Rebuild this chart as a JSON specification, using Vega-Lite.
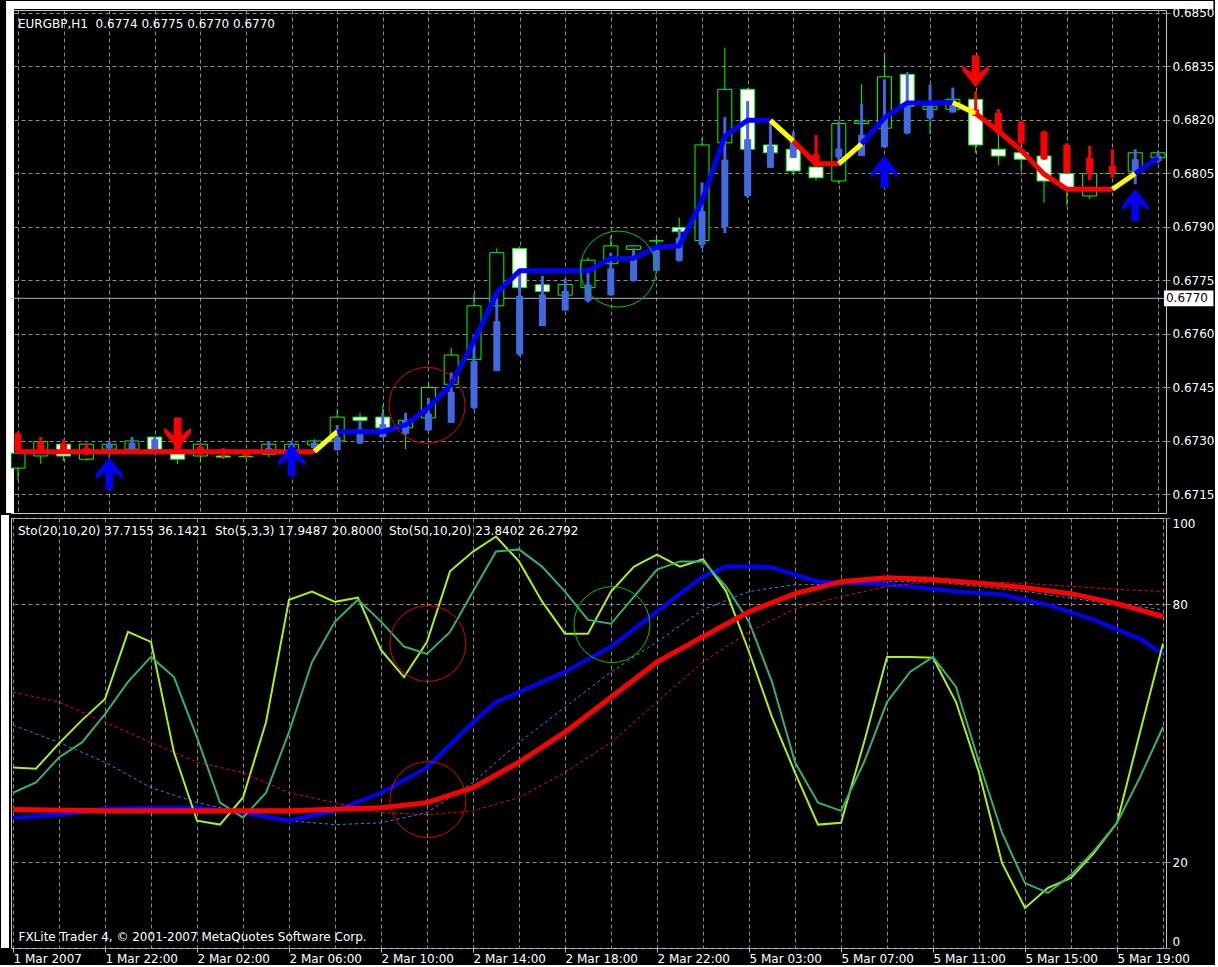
{
  "$schema": "https://vega.github.io/schema/vega-lite/v6.json",
  "background": "black",
  "padding": 0,
  "spacing": 0,
  "resolve": {"scale": {"stroke": "independent", "fill": "independent", "color": "independent", "shape": "independent"}},
  "config": {
    "view": {"stroke": "#c8c8c8", "strokeWidth": 1, "fill": "black"},
    "font": "DejaVu Sans",
    "axis": {"labelFont": "DejaVu Sans", "labelFontSize": 12, "labelColor": "white", "gridColor": "#8c8c8c", "gridDash": [4, 3], "gridOpacity": 1, "gridWidth": 1, "domain": false, "tickColor": "#8c8c8c"}
  },
  "datasets": {
    "bars": [
      {"i":0,"open":0.67224,"high":0.67300,"low":0.67190,"close":0.67266,"hh":0.67325,"hl":0.67266,"hb":0.67270,"ht":0.67320,"trend":"down"},
      {"i":1,"open":0.67258,"high":0.67311,"low":0.67236,"close":0.67298,"hh":0.67311,"hl":0.67272,"hb":0.67272,"ht":0.67298,"trend":"down"},
      {"i":2,"open":0.67291,"high":0.67302,"low":0.67244,"close":0.67258,"hh":0.67305,"hl":0.67265,"hb":0.67270,"ht":0.67291,"trend":"down"},
      {"i":3,"open":0.67249,"high":0.67294,"low":0.67244,"close":0.67291,"hh":0.67294,"hl":0.67260,"hb":0.67265,"ht":0.67280,"trend":"down"},
      {"i":4,"open":0.67277,"high":0.67300,"low":0.67252,"close":0.67291,"hh":0.67300,"hl":0.67275,"hb":0.67280,"ht":0.67290,"trend":"up"},
      {"i":5,"open":0.67277,"high":0.67311,"low":0.67270,"close":0.67300,"hh":0.67311,"hl":0.67277,"hb":0.67277,"ht":0.67295,"trend":"up"},
      {"i":6,"open":0.67311,"high":0.67311,"low":0.67265,"close":0.67277,"hh":0.67311,"hl":0.67277,"hb":0.67277,"ht":0.67305,"trend":"up"},
      {"i":7,"open":0.67264,"high":0.67320,"low":0.67235,"close":0.67249,"hh":0.67300,"hl":0.67265,"hb":0.67270,"ht":0.67290,"trend":"down"},
      {"i":8,"open":0.67258,"high":0.67295,"low":0.67240,"close":0.67291,"hh":0.67291,"hl":0.67258,"hb":0.67263,"ht":0.67283,"trend":"down"},
      {"i":9,"open":0.67258,"high":0.67262,"low":0.67250,"close":0.67255,"hh":0.67280,"hl":0.67255,"hb":0.67262,"ht":0.67272,"trend":"down"},
      {"i":10,"open":0.67257,"high":0.67262,"low":0.67250,"close":0.67256,"hh":0.67272,"hl":0.67256,"hb":0.67258,"ht":0.67270,"trend":"down"},
      {"i":11,"open":0.67263,"high":0.67300,"low":0.67255,"close":0.67291,"hh":0.67300,"hl":0.67268,"hb":0.67268,"ht":0.67280,"trend":"up"},
      {"i":12,"open":0.67270,"high":0.67300,"low":0.67260,"close":0.67291,"hh":0.67295,"hl":0.67272,"hb":0.67275,"ht":0.67288,"trend":"up"},
      {"i":13,"open":0.67289,"high":0.67305,"low":0.67270,"close":0.67300,"hh":0.67300,"hl":0.67275,"hb":0.67280,"ht":0.67295,"trend":"up"},
      {"i":14,"open":0.67300,"high":0.67389,"low":0.67290,"close":0.67367,"hh":0.67345,"hl":0.67274,"hb":0.67274,"ht":0.67311,"trend":"up"},
      {"i":15,"open":0.67367,"high":0.67379,"low":0.67350,"close":0.67358,"hh":0.67358,"hl":0.67292,"hb":0.67293,"ht":0.67334,"trend":"up"},
      {"i":16,"open":0.67367,"high":0.67401,"low":0.67330,"close":0.67337,"hh":0.67379,"hl":0.67309,"hb":0.67311,"ht":0.67347,"trend":"up"},
      {"i":17,"open":0.67337,"high":0.67379,"low":0.67277,"close":0.67358,"hh":0.67379,"hl":0.67318,"hb":0.67320,"ht":0.67358,"trend":"up"},
      {"i":18,"open":0.67365,"high":0.67463,"low":0.67355,"close":0.67450,"hh":0.67421,"hl":0.67328,"hb":0.67330,"ht":0.67377,"trend":"up"},
      {"i":19,"open":0.67459,"high":0.67562,"low":0.67450,"close":0.67541,"hh":0.67492,"hl":0.67351,"hb":0.67351,"ht":0.67438,"trend":"up"},
      {"i":20,"open":0.67529,"high":0.67711,"low":0.67520,"close":0.67679,"hh":0.67599,"hl":0.67389,"hb":0.67393,"ht":0.67524,"trend":"up"},
      {"i":21,"open":0.67679,"high":0.67840,"low":0.67670,"close":0.67828,"hh":0.67702,"hl":0.67496,"hb":0.67496,"ht":0.67636,"trend":"up"},
      {"i":22,"open":0.67840,"high":0.67845,"low":0.67720,"close":0.67730,"hh":0.67777,"hl":0.67538,"hb":0.67543,"ht":0.67707,"trend":"up"},
      {"i":23,"open":0.67738,"high":0.67745,"low":0.67710,"close":0.67719,"hh":0.67763,"hl":0.67622,"hb":0.67622,"ht":0.67711,"trend":"up"},
      {"i":24,"open":0.67709,"high":0.67745,"low":0.67700,"close":0.67739,"hh":0.67754,"hl":0.67665,"hb":0.67666,"ht":0.67721,"trend":"up"},
      {"i":25,"open":0.67730,"high":0.67815,"low":0.67720,"close":0.67807,"hh":0.67777,"hl":0.67688,"hb":0.67693,"ht":0.67739,"trend":"up"},
      {"i":26,"open":0.67797,"high":0.67875,"low":0.67790,"close":0.67847,"hh":0.67828,"hl":0.67707,"hb":0.67709,"ht":0.67784,"trend":"up"},
      {"i":27,"open":0.67837,"high":0.67850,"low":0.67830,"close":0.67847,"hh":0.67840,"hl":0.67747,"hb":0.67749,"ht":0.67812,"trend":"up"},
      {"i":28,"open":0.67861,"high":0.67875,"low":0.67850,"close":0.67861,"hh":0.67847,"hl":0.67777,"hb":0.67777,"ht":0.67835,"trend":"up"},
      {"i":29,"open":0.67898,"high":0.67926,"low":0.67880,"close":0.67887,"hh":0.67894,"hl":0.67803,"hb":0.67805,"ht":0.67870,"trend":"up"},
      {"i":30,"open":0.67862,"high":0.68150,"low":0.67850,"close":0.68130,"hh":0.68025,"hl":0.67840,"hb":0.67850,"ht":0.67945,"trend":"up"},
      {"i":31,"open":0.68136,"high":0.68403,"low":0.68120,"close":0.68286,"hh":0.68208,"hl":0.67883,"hb":0.67900,"ht":0.68089,"trend":"up"},
      {"i":32,"open":0.68286,"high":0.68290,"low":0.68100,"close":0.68118,"hh":0.68253,"hl":0.67982,"hb":0.67987,"ht":0.68146,"trend":"up"},
      {"i":33,"open":0.68130,"high":0.68140,"low":0.68100,"close":0.68108,"hh":0.68197,"hl":0.68066,"hb":0.68066,"ht":0.68127,"trend":"up"},
      {"i":34,"open":0.68118,"high":0.68125,"low":0.68050,"close":0.68057,"hh":0.68167,"hl":0.68094,"hb":0.68094,"ht":0.68141,"trend":"up"},
      {"i":35,"open":0.68068,"high":0.68075,"low":0.68030,"close":0.68038,"hh":0.68158,"hl":0.68080,"hb":0.68083,"ht":0.68104,"trend":"down"},
      {"i":36,"open":0.68029,"high":0.68200,"low":0.68020,"close":0.68190,"hh":0.68188,"hl":0.68071,"hb":0.68095,"ht":0.68120,"trend":"up"},
      {"i":37,"open":0.68190,"high":0.68300,"low":0.68180,"close":0.68197,"hh":0.68245,"hl":0.68099,"hb":0.68099,"ht":0.68158,"trend":"up"},
      {"i":38,"open":0.68177,"high":0.68384,"low":0.68170,"close":0.68321,"hh":0.68314,"hl":0.68122,"hb":0.68124,"ht":0.68206,"trend":"up"},
      {"i":39,"open":0.68328,"high":0.68335,"low":0.68230,"close":0.68239,"hh":0.68333,"hl":0.68160,"hb":0.68162,"ht":0.68249,"trend":"up"},
      {"i":40,"open":0.68230,"high":0.68245,"low":0.68160,"close":0.68239,"hh":0.68300,"hl":0.68202,"hb":0.68205,"ht":0.68239,"trend":"up"},
      {"i":41,"open":0.68230,"high":0.68265,"low":0.68225,"close":0.68258,"hh":0.68291,"hl":0.68221,"hb":0.68221,"ht":0.68249,"trend":"up"},
      {"i":42,"open":0.68258,"high":0.68280,"low":0.68108,"close":0.68130,"hh":0.68277,"hl":0.68211,"hb":0.68211,"ht":0.68230,"trend":"down"},
      {"i":43,"open":0.68118,"high":0.68230,"low":0.68073,"close":0.68099,"hh":0.68230,"hl":0.68160,"hb":0.68164,"ht":0.68220,"trend":"down"},
      {"i":44,"open":0.68108,"high":0.68136,"low":0.68056,"close":0.68090,"hh":0.68197,"hl":0.68132,"hb":0.68136,"ht":0.68195,"trend":"down"},
      {"i":45,"open":0.68099,"high":0.68110,"low":0.67968,"close":0.68029,"hh":0.68170,"hl":0.68088,"hb":0.68090,"ht":0.68167,"trend":"down"},
      {"i":46,"open":0.68050,"high":0.68060,"low":0.67959,"close":0.68010,"hh":0.68135,"hl":0.68050,"hb":0.68052,"ht":0.68130,"trend":"down"},
      {"i":47,"open":0.67987,"high":0.68127,"low":0.67979,"close":0.68050,"hh":0.68127,"hl":0.68031,"hb":0.68048,"ht":0.68094,"trend":"down"},
      {"i":48,"open":0.68050,"high":0.68060,"low":0.68045,"close":0.68050,"hh":0.68118,"hl":0.68038,"hb":0.68050,"ht":0.68071,"trend":"down"},
      {"i":49,"open":0.68055,"high":0.68118,"low":0.68020,"close":0.68108,"hh":0.68118,"hl":0.68020,"hb":0.68050,"ht":0.68090,"trend":"up"},
      {"i":50,"open":0.68094,"high":0.68115,"low":0.68090,"close":0.68108,"hh":0.68110,"hl":0.68080,"hb":0.68085,"ht":0.68100,"trend":"up"}
    ],
    "ma": [
      {"seg":"A","trend":"down","i":0,"v":0.67270},{"seg":"A","trend":"down","i":13,"v":0.67270},
      {"seg":"B","trend":"flat","i":13,"v":0.67270},{"seg":"B","trend":"flat","i":14,"v":0.67326},
      {"seg":"C","trend":"up","i":14,"v":0.67326},{"seg":"C","trend":"up","i":15,"v":0.67326},{"seg":"C","trend":"up","i":16,"v":0.67326},{"seg":"C","trend":"up","i":17,"v":0.67345},{"seg":"C","trend":"up","i":18,"v":0.67393},{"seg":"C","trend":"up","i":19,"v":0.67459},{"seg":"C","trend":"up","i":20,"v":0.67580},{"seg":"C","trend":"up","i":21,"v":0.67716},{"seg":"C","trend":"up","i":22,"v":0.67777},{"seg":"C","trend":"up","i":23,"v":0.67777},{"seg":"C","trend":"up","i":24,"v":0.67777},{"seg":"C","trend":"up","i":25,"v":0.67777},{"seg":"C","trend":"up","i":26,"v":0.67812},{"seg":"C","trend":"up","i":27,"v":0.67812},{"seg":"C","trend":"up","i":28,"v":0.67844},{"seg":"C","trend":"up","i":29,"v":0.67847},{"seg":"C","trend":"up","i":30,"v":0.67973},{"seg":"C","trend":"up","i":31,"v":0.68155},{"seg":"C","trend":"up","i":32,"v":0.68199},{"seg":"C","trend":"up","i":33,"v":0.68199},
      {"seg":"D","trend":"flat","i":33,"v":0.68199},{"seg":"D","trend":"flat","i":34,"v":0.68141},
      {"seg":"E","trend":"down","i":34,"v":0.68141},{"seg":"E","trend":"down","i":35,"v":0.68077},{"seg":"E","trend":"down","i":36,"v":0.68077},
      {"seg":"F","trend":"flat","i":36,"v":0.68077},{"seg":"F","trend":"flat","i":37,"v":0.68133},
      {"seg":"G","trend":"up","i":37,"v":0.68133},{"seg":"G","trend":"up","i":38,"v":0.68206},{"seg":"G","trend":"up","i":39,"v":0.68248},{"seg":"G","trend":"up","i":40,"v":0.68248},{"seg":"G","trend":"up","i":41,"v":0.68249},
      {"seg":"H","trend":"flat","i":41,"v":0.68249},{"seg":"H","trend":"flat","i":42,"v":0.68218},
      {"seg":"I","trend":"down","i":42,"v":0.68218},{"seg":"I","trend":"down","i":43,"v":0.68169},{"seg":"I","trend":"down","i":44,"v":0.68115},{"seg":"I","trend":"down","i":45,"v":0.68048},{"seg":"I","trend":"down","i":46,"v":0.68006},{"seg":"I","trend":"down","i":47,"v":0.68006},{"seg":"I","trend":"down","i":48,"v":0.68006},
      {"seg":"J","trend":"flat","i":48,"v":0.68006},{"seg":"J","trend":"flat","i":49,"v":0.68050},
      {"seg":"K","trend":"up","i":49,"v":0.68050},{"seg":"K","trend":"up","i":50,"v":0.68094}
    ],
    "arrows": [
      {"i":4,"p":0.67209,"dir":"up"},
      {"i":7,"p":0.67321,"dir":"down"},
      {"i":12,"p":0.67246,"dir":"up"},
      {"i":38,"p":0.68055,"dir":"up"},
      {"i":42,"p":0.68337,"dir":"down"},
      {"i":49,"p":0.67962,"dir":"up"}
    ],
    "circlesTop": [
      {"i":17.94,"p":0.67400,"kind":"red"},
      {"i":26.33,"p":0.67782,"kind":"green"}
    ],
    "circlesLow": [
      {"i":18.04,"v":70.8,"kind":"red"},
      {"i":26.04,"v":75.2,"kind":"green"},
      {"i":18.04,"v":34.5,"kind":"red"}
    ],
    "s5m": [
      {"i":0,"v":42.0},{"i":1,"v":41.7},{"i":2,"v":47.6},{"i":3,"v":53.0},{"i":4,"v":57.9},{"i":5,"v":73.5},{"i":6,"v":71.2},{"i":7,"v":45.5},{"i":8,"v":29.6},{"i":9,"v":28.7},{"i":10,"v":35.0},{"i":11,"v":52.5},{"i":12,"v":81.0},{"i":13,"v":82.9},{"i":14,"v":80.5},{"i":15,"v":81.5},{"i":16,"v":69.3},{"i":17,"v":63.0},{"i":18,"v":71.2},{"i":19,"v":87.6},{"i":20,"v":92.2},{"i":21,"v":95.7},{"i":22,"v":89.9},{"i":23,"v":80.6},{"i":24,"v":73.1},{"i":25,"v":73.1},{"i":26,"v":82.9},{"i":27,"v":88.7},{"i":28,"v":91.5},{"i":29,"v":88.7},{"i":30,"v":90.4},{"i":31,"v":83.0},{"i":32,"v":68.9},{"i":33,"v":53.7},{"i":34,"v":40.8},{"i":35,"v":28.7},{"i":36,"v":29.1},{"i":37,"v":47.8},{"i":38,"v":67.7},{"i":39,"v":67.7},{"i":40,"v":67.5},{"i":41,"v":57.2},{"i":42,"v":40.8},{"i":43,"v":19.8},{"i":44,"v":9.3},{"i":45,"v":14.0},{"i":46,"v":16.3},{"i":47,"v":22.1},{"i":48,"v":29.1},{"i":49,"v":50.2},{"i":50,"v":70.8}
    ],
    "s5s": [
      {"i":0,"v":36.1},{"i":1,"v":38.5},{"i":2,"v":44.3},{"i":3,"v":47.8},{"i":4,"v":54.4},{"i":5,"v":61.9},{"i":6,"v":67.7},{"i":7,"v":63.0},{"i":8,"v":49.0},{"i":9,"v":33.8},{"i":10,"v":30.3},{"i":11,"v":36.1},{"i":12,"v":50.2},{"i":13,"v":66.5},{"i":14,"v":75.9},{"i":15,"v":81.0},{"i":16,"v":75.9},{"i":17,"v":70.1},{"i":18,"v":68.4},{"i":19,"v":73.5},{"i":20,"v":82.9},{"i":21,"v":92.2},{"i":22,"v":92.7},{"i":23,"v":88.7},{"i":24,"v":82.9},{"i":25,"v":76.3},{"i":26,"v":75.4},{"i":27,"v":81.7},{"i":28,"v":88.0},{"i":29,"v":89.9},{"i":30,"v":89.9},{"i":31,"v":84.1},{"i":32,"v":75.9},{"i":33,"v":61.9},{"i":34,"v":43.2},{"i":35,"v":33.8},{"i":36,"v":31.9},{"i":37,"v":43.2},{"i":38,"v":57.2},{"i":39,"v":64.2},{"i":40,"v":67.7},{"i":41,"v":60.7},{"i":42,"v":43.2},{"i":43,"v":26.8},{"i":44,"v":15.1},{"i":45,"v":12.8},{"i":46,"v":17.0},{"i":47,"v":22.6},{"i":48,"v":29.1},{"i":49,"v":39.7},{"i":50,"v":51.4}
    ],
    "s20m": [
      {"i":0,"v":30.3},{"i":2,"v":31.0},{"i":4,"v":32.4},{"i":6,"v":32.6},{"i":8,"v":32.6},{"i":10,"v":31.5},{"i":12,"v":29.6},{"i":14,"v":31.9},{"i":16,"v":36.1},{"i":18,"v":42.0},{"i":20,"v":52.5},{"i":21,"v":57.2},{"i":22,"v":59.5},{"i":24,"v":64.2},{"i":26,"v":70.1},{"i":28,"v":78.3},{"i":30,"v":86.4},{"i":31,"v":88.7},{"i":32,"v":88.7},{"i":33,"v":88.5},{"i":34,"v":86.8},{"i":35,"v":85.2},{"i":37,"v":84.8},{"i":39,"v":84.1},{"i":41,"v":82.9},{"i":43,"v":82.2},{"i":45,"v":79.8},{"i":47,"v":76.3},{"i":49,"v":71.9},{"i":50,"v":68.4}
    ],
    "s20s": [
      {"i":0,"v":51.8},{"i":2,"v":47.8},{"i":4,"v":43.2},{"i":6,"v":37.3},{"i":8,"v":33.8},{"i":10,"v":31.5},{"i":12,"v":29.6},{"i":14,"v":28.7},{"i":16,"v":29.1},{"i":18,"v":31.5},{"i":20,"v":38.5},{"i":22,"v":47.8},{"i":24,"v":56.0},{"i":26,"v":64.2},{"i":28,"v":71.2},{"i":30,"v":78.7},{"i":32,"v":82.9},{"i":34,"v":84.5},{"i":36,"v":84.5},{"i":38,"v":85.2},{"i":40,"v":85.2},{"i":44,"v":82.9},{"i":47,"v":80.6},{"i":50,"v":78.7}
    ],
    "s50m": [
      {"i":0,"v":32.2},{"i":4,"v":31.9},{"i":8,"v":31.9},{"i":12,"v":31.9},{"i":16,"v":32.6},{"i":18,"v":33.8},{"i":20,"v":37.3},{"i":22,"v":43.2},{"i":24,"v":50.2},{"i":26,"v":58.3},{"i":28,"v":66.5},{"i":30,"v":72.4},{"i":32,"v":78.2},{"i":34,"v":82.4},{"i":36,"v":85.2},{"i":38,"v":86.1},{"i":40,"v":85.7},{"i":42,"v":84.8},{"i":44,"v":83.8},{"i":46,"v":82.4},{"i":48,"v":80.1},{"i":50,"v":77.1}
    ],
    "s50s": [
      {"i":0,"v":59.5},{"i":2,"v":57.2},{"i":4,"v":52.5},{"i":6,"v":47.8},{"i":8,"v":43.2},{"i":10,"v":40.8},{"i":12,"v":36.1},{"i":14,"v":33.8},{"i":16,"v":31.5},{"i":18,"v":31.0},{"i":20,"v":31.9},{"i":22,"v":35.0},{"i":24,"v":40.8},{"i":26,"v":47.8},{"i":28,"v":57.2},{"i":30,"v":66.5},{"i":32,"v":73.5},{"i":34,"v":78.9},{"i":36,"v":81.7},{"i":38,"v":84.1},{"i":40,"v":85.2},{"i":42,"v":85.2},{"i":44,"v":84.8},{"i":46,"v":84.1},{"i":48,"v":83.4},{"i":50,"v":82.9}
    ]
  },
  "vconcat": [
    {
      "width": 1155,
      "height": 503,
      "title": {"text": "EURGBP,H1\u00a0 0.6774 0.6775 0.6770 0.6770", "anchor": "start", "frame": "group", "offset": -30, "dx": 7, "font": "DejaVu Sans", "fontSize": 12, "fontWeight": "normal", "color": "white"},
      "resolve": {"scale": {"stroke": "independent", "fill": "independent", "color": "independent", "shape": "independent"}},
      "layer": [
        {
          "data": {"name": "bars"},
          "mark": {"type": "rule", "color": "#00ff00", "strokeWidth": 1, "clip": true},
          "encoding": {
            "x": {"field": "i", "type": "quantitative", "scale": {"domain": [-0.087, 50.13], "nice": false, "zero": false},
                  "axis": {"values": [0,2,4,6,8,10,12,14,16,18,20,22,24,26,28,30,32,34,36,38,40,42,44,46,48,50], "labels": false, "ticks": false, "domain": false, "grid": true, "title": null}},
            "y": {"field": "low", "type": "quantitative", "scale": {"domain": [0.670981, 0.685084], "nice": false, "zero": false},
                  "axis": {"orient": "right", "values": [0.6715,0.673,0.6745,0.676,0.6775,0.679,0.6805,0.682,0.6835,0.685], "format": ".4f", "grid": true, "ticks": true, "tickSize": 4, "labelPadding": 2, "domain": false, "title": null}},
            "y2": {"field": "high"}
          }
        },
        {
          "data": {"values": [{}]},
          "mark": {"type": "rect", "fill": "white", "clip": false},
          "encoding": {"x": {"datum": -0.522}, "x2": {"datum": -0.174}, "y": {"datum": 0.685336}, "y2": {"datum": 0.670981}}
        },
        {
          "data": {"values": [{}]},
          "mark": {"type": "rect", "fill": "white", "clip": false},
          "encoding": {"x": {"datum": -0.522}, "x2": {"datum": 52.43}, "y": {"datum": 0.685336}, "y2": {"datum": 0.685112}}
        },
        {
          "data": {"values": [{}]},
          "mark": {"type": "rule", "color": "#b0b0b0", "strokeWidth": 1},
          "encoding": {"y": {"datum": 0.677}}
        },
        {
          "data": {"name": "bars"},
          "mark": {"type": "bar", "size": 14, "stroke": "#00ff00", "strokeWidth": 1, "clip": true},
          "encoding": {
            "x": {"field": "i", "type": "quantitative"},
            "y": {"field": "open", "type": "quantitative"},
            "y2": {"field": "close"},
            "fill": {"condition": {"test": "datum.close < datum.open", "value": "white"}, "value": "black"}
          }
        },
        {
          "data": {"name": "bars"},
          "mark": {"type": "rule", "strokeWidth": 3, "clip": true},
          "encoding": {
            "x": {"field": "i", "type": "quantitative"},
            "y": {"field": "hl", "type": "quantitative"},
            "y2": {"field": "hh"},
            "color": {"field": "trend", "type": "nominal", "scale": {"domain": ["up", "down"], "range": ["#4169e1", "#ff0000"]}, "legend": null}
          }
        },
        {
          "data": {"name": "bars"},
          "mark": {"type": "rule", "strokeWidth": 7, "clip": true},
          "encoding": {
            "x": {"field": "i", "type": "quantitative"},
            "y": {"field": "hb", "type": "quantitative"},
            "y2": {"field": "ht"},
            "color": {"field": "trend", "type": "nominal", "scale": {"domain": ["up", "down"], "range": ["#4169e1", "#ff0000"]}, "legend": null}
          }
        },
        {
          "data": {"name": "ma"},
          "mark": {"type": "line", "strokeWidth": 5, "strokeJoin": "round", "clip": true},
          "encoding": {
            "x": {"field": "i", "type": "quantitative"},
            "y": {"field": "v", "type": "quantitative"},
            "detail": {"field": "seg", "type": "nominal"},
            "stroke": {"field": "trend", "type": "nominal", "scale": {"domain": ["up", "down", "flat"], "range": ["#0000ff", "#ff0000", "#ffff00"]}, "legend": null}
          }
        },
        {
          "data": {"name": "arrows"},
          "mark": {"type": "point", "filled": true, "size": 1024, "opacity": 1, "strokeWidth": 0},
          "encoding": {
            "x": {"field": "i", "type": "quantitative"},
            "y": {"field": "p", "type": "quantitative"},
            "shape": {"field": "dir", "type": "nominal", "scale": {"domain": ["up", "down"], "range": ["M0,-1 L0.83,0.05 L0.83,0.37 L0.24,-0.12 L0.24,1 L-0.24,1 L-0.24,-0.12 L-0.83,0.37 L-0.83,0.05 Z", "M0,1 L0.83,-0.05 L0.83,-0.37 L0.24,0.12 L0.24,-1 L-0.24,-1 L-0.24,0.12 L-0.83,-0.37 L-0.83,-0.05 Z"]}, "legend": null},
            "fill": {"field": "dir", "type": "nominal", "scale": {"domain": ["up", "down"], "range": ["#0000ff", "#ff0000"]}, "legend": null}
          }
        },
        {
          "data": {"name": "circlesTop"},
          "mark": {"type": "point", "shape": "circle", "filled": false, "size": 5776, "opacity": 1, "strokeWidth": 1},
          "encoding": {
            "x": {"field": "i", "type": "quantitative"},
            "y": {"field": "p", "type": "quantitative"},
            "stroke": {"field": "kind", "type": "nominal", "scale": {"domain": ["red", "green"], "range": ["#e00000", "#00c800"]}, "legend": null}
          }
        },
        {
          "data": {"values": [{}]},
          "mark": {"type": "rect", "fill": "white", "clip": false},
          "encoding": {"x": {"datum": 50.26}, "x2": {"datum": 52.43}, "y": {"datum": 0.67722}, "y2": {"datum": 0.67678}}
        },
        {
          "data": {"values": [{}]},
          "mark": {"type": "text", "text": "0.6770", "align": "left", "baseline": "middle", "color": "black", "font": "DejaVu Sans", "fontSize": 12, "dx": 2, "clip": false},
          "encoding": {"x": {"datum": 50.26}, "y": {"datum": 0.677}}
        }
      ]
    },
    {
      "width": 1155,
      "height": 430,
      "title": {"text": "Sto(20,10,20) 37.7155 36.1421\u00a0 Sto(5,3,3) 17.9487 20.8000\u00a0 Sto(50,10,20) 23.8402 26.2792", "anchor": "start", "frame": "group", "offset": -23, "dx": 7, "font": "DejaVu Sans", "fontSize": 12, "fontWeight": "normal", "color": "white"},
      "resolve": {"scale": {"stroke": "independent"}},
      "layer": [
        {
          "data": {"name": "s20s"},
          "mark": {"type": "line", "color": "#1e90ff", "strokeWidth": 1, "strokeDash": [3, 3]},
          "encoding": {
            "x": {"field": "i", "type": "quantitative", "scale": {"domain": [-0.087, 50.13], "nice": false, "zero": false},
                  "axis": {"values": [0,2,4,6,8,10,12,14,16,18,20,22,24,26,28,30,32,34,36,38,40,42,44,46,48,50], "grid": true,
                           "labelExpr": "datum.value % 4 == 0 ? ['1 Mar 2007','1 Mar 22:00','2 Mar 02:00','2 Mar 06:00','2 Mar 10:00','2 Mar 14:00','2 Mar 18:00','2 Mar 22:00','5 Mar 03:00','5 Mar 07:00','5 Mar 11:00','5 Mar 15:00','5 Mar 19:00'][datum.value / 4] : ''",
                           "labelAlign": "left", "labelFlush": false, "labelOverlap": false, "labelBound": false, "labelPadding": 1, "tickSize": 4, "tickColor": "#c0c0c0",
                           "tickOpacity": {"condition": {"test": "datum.value % 4 != 0", "value": 0}, "value": 1},
                           "domain": false,
                           "title": "FXLite Trader 4, © 2001-2007 MetaQuotes Software Corp.", "titleX": 7, "titleY": -5, "titleAlign": "left", "titleAnchor": "start", "titleBaseline": "bottom", "titleFontWeight": "normal", "titleFontSize": 12, "titleColor": "white", "titleFont": "DejaVu Sans"}},
            "y": {"field": "v", "type": "quantitative", "scale": {"domain": [0, 100], "nice": false, "zero": false},
                  "axis": {"orient": "right", "values": [0, 20, 80, 100], "grid": true, "ticks": true, "tickSize": 4, "labelPadding": 2, "labelFlush": true, "domain": false, "title": null}}
          }
        },
        {
          "data": {"values": [{}]},
          "mark": {"type": "rect", "fill": "white", "clip": false},
          "encoding": {"x": {"datum": -0.522}, "x2": {"datum": -0.174}, "y": {"datum": 100.7}, "y2": {"datum": 0}}
        },
        {
          "data": {"name": "s20m"},
          "mark": {"type": "line", "color": "#0000ff", "strokeWidth": 4, "clip": true},
          "encoding": {"x": {"field": "i", "type": "quantitative"}, "y": {"field": "v", "type": "quantitative"}}
        },
        {
          "data": {"name": "s5m"},
          "mark": {"type": "line", "color": "#a6f21e", "strokeWidth": 2, "clip": true},
          "encoding": {"x": {"field": "i", "type": "quantitative"}, "y": {"field": "v", "type": "quantitative"}}
        },
        {
          "data": {"name": "s5s"},
          "mark": {"type": "line", "color": "#35b070", "strokeWidth": 2, "clip": true},
          "encoding": {"x": {"field": "i", "type": "quantitative"}, "y": {"field": "v", "type": "quantitative"}}
        },
        {
          "data": {"name": "s50s"},
          "mark": {"type": "line", "color": "#ff0000", "strokeWidth": 1, "strokeDash": [3, 3], "clip": true},
          "encoding": {"x": {"field": "i", "type": "quantitative"}, "y": {"field": "v", "type": "quantitative"}}
        },
        {
          "data": {"name": "s50m"},
          "mark": {"type": "line", "color": "#ff0000", "strokeWidth": 5, "clip": true},
          "encoding": {"x": {"field": "i", "type": "quantitative"}, "y": {"field": "v", "type": "quantitative"}}
        },
        {
          "data": {"name": "circlesLow"},
          "mark": {"type": "point", "shape": "circle", "filled": false, "size": 5776, "opacity": 1, "strokeWidth": 1},
          "encoding": {
            "x": {"field": "i", "type": "quantitative"},
            "y": {"field": "v", "type": "quantitative"},
            "stroke": {"field": "kind", "type": "nominal", "scale": {"domain": ["red", "green"], "range": ["#e00000", "#00c800"]}, "legend": null}
          }
        }
      ]
    }
  ]
}
